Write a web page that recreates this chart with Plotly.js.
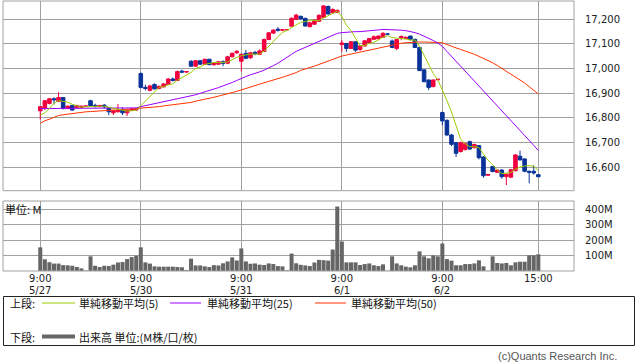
<!DOCTYPE html>
<html>
<head>
<meta charset="utf-8">
<script src="https://cdn.plot.ly/plotly-3.0.1.min.js"></script>
<style>html,body{margin:0;padding:0;background:#fff;}#chart{width:638px;height:362px;}</style>
</head>
<body>
<div id="chart"></div>
<script>
// ---- data (15-minute bars, 22 slots per day: 9:00..11:15, 11:30, 12:30..14:45, 15:00) ----
const days = ['5/27', '5/30', '5/31', '6/1', '6/2'];
const slotsPerDay = 22;
const timeLabels = ['9:00', '9:00', '9:00', '9:00', '9:00', '15:00'];
const dateLabels = ['5/27', '5/30', '5/31', '6/1', '6/2', ''];

const open = [
  16829,16839,16859,16878,16867,16883,16838,16851,16843,16843,16848,16870,16851,16846,16852,16843,16821,16825,16835,16821,16830,16832,
  16980,16924,16912,16936,16920,16926,16936,16958,16952,16990,16986,17030,17010,17032,17018,17038,17016,17018,17028,17022,17048,17064,
  17030,17062,17044,17066,17058,17070,17118,17144,17160,17156,17158,17172,17200,17212,17204,17170,17180,17192,17208,17252,17226,17228,
  17098,17102,17082,17109,17078,17092,17105,17119,17121,17127,17140,17112,17082,17125,17122,17132,17119,17086,16995,16954,16927,16955,
  16822,16790,16731,16700,16664,16672,16704,16680,16688,16642,16568,16603,16580,16589,16562,16560,16586,16645,16634,16584,16584,16570
];
const high = [
  16848,16873,16881,16884,16905,16885,16850,16853,16852,16849,16849,16874,16858,16852,16857,16845,16832,16857,16843,16834,16838,16836,
  16985,16935,16935,16940,16932,16942,16962,16964,16992,16996,16990,17034,17035,17036,17040,17040,17026,17030,17034,17052,17065,17075,
  17062,17075,17068,17072,17078,17122,17148,17160,17168,17160,17158,17208,17222,17215,17206,17190,17200,17220,17258,17256,17244,17240,
  17116,17104,17112,17110,17095,17115,17124,17135,17134,17148,17142,17118,17120,17135,17130,17134,17121,17088,16998,16956,16956,16958,
  16826,16795,16735,16702,16704,16700,16708,16696,16690,16645,16572,16606,16590,16592,16574,16594,16654,16668,16636,16586,16608,16572
];
const low = [
  16794,16832,16855,16855,16865,16834,16836,16830,16840,16841,16847,16848,16842,16844,16839,16812,16812,16823,16812,16808,16828,16830,
  16920,16912,16908,16915,16916,16924,16934,16948,16950,16982,16984,17008,17008,17016,17016,17014,17012,17016,17010,17018,17046,17060,
  16988,17038,17040,17054,17055,17068,17115,17140,17150,17152,17156,17170,17198,17198,17170,17168,17178,17190,17206,17218,17222,17226,
  17068,17068,17080,17068,17072,17090,17103,17117,17119,17125,17138,17084,17075,17115,17120,17114,17084,16990,16945,16913,16925,16953,
  16770,16728,16686,16642,16660,16668,16670,16676,16632,16558,16566,16580,16578,16554,16528,16556,16584,16628,16580,16535,16570,16560
];
const close = [
  16846,16870,16878,16874,16883,16839,16848,16832,16851,16848,16848,16850,16846,16851,16845,16825,16829,16832,16821,16832,16836,16835,
  16924,16920,16930,16918,16928,16938,16958,16952,16988,16986,16988,17010,17032,17018,17038,17016,17022,17028,17022,17048,17062,17070,
  17058,17042,17064,17060,17072,17118,17145,17156,17156,17158,17158,17204,17217,17202,17173,17186,17196,17216,17254,17222,17240,17236,
  17104,17082,17109,17075,17092,17113,17122,17129,17132,17143,17140,17086,17118,17130,17127,17119,17086,16992,16947,16924,16954,16957,
  16788,16731,16693,16657,16700,16696,16674,16692,16639,16566,16571,16583,16589,16562,16572,16590,16650,16630,16584,16580,16577,16562
];
// volume, millions
const volume = [
  153,76,57,48,48,38,37,34,26,17,3,95,34,26,34,32,41,55,58,77,90,99,
  153,56,48,30,28,28,28,28,26,24,6,80,36,36,30,26,38,36,50,62,88,68,
  146,62,47,49,41,39,49,45,32,30,5,113,50,40,36,32,55,72,70,67,139,417,
  191,56,56,56,39,45,49,37,32,43,2,95,49,37,28,24,37,127,95,82,101,95,
  178,77,67,37,37,45,45,49,69,30,2,95,52,49,52,37,56,60,60,101,101,108
];
// first four MA5 values (window reaches into the previous day)
const ma5Head = [16812, 16821, 16839, 16860];
const ma25 = [
  16838,16838,16838,16838,16838,16838,16838,16838,16838,16838,16838,16838,16840,16840,16840,16840,16840,16840,16840,16840,16841,16841,
  16846,16850,16853,16856,16862,16866,16868,16873,16877,16881,16884,16888,16894,16900,16905,16911,16917,16923,16930,16936,16944,16952,
  16961,16968,16975,16980,16987,16994,17002,17012,17022,17033,17045,17058,17070,17078,17087,17095,17103,17112,17120,17128,17137,17143,
  17146,17148,17149,17150,17150,17151,17152,17155,17157,17159,17159,17159,17158,17156,17154,17151,17146,17140,17132,17123,17114,17104,
  17090,17070,17050,17030,17010,16990,16970,16951,16932,16913,16893,16873,16852,16832,16812,16792,16772,16752,16731,16710,16689,16668
];
const ma50 = [
  16778,16789,16795,16803,16810,16813,16816,16818,16821,16823,16825,16826,16827,16828,16829,16830,16832,16833,16834,16835,16837,16838,
  16840,16841,16843,16845,16846,16849,16851,16853,16856,16858,16860,16863,16868,16873,16876,16880,16884,16888,16892,16898,16903,16908,
  16913,16919,16925,16931,16937,16942,16948,16954,16959,16965,16971,16977,16984,16993,16998,17004,17010,17017,17024,17030,17037,17044,
  17051,17055,17059,17063,17067,17071,17075,17080,17084,17089,17093,17097,17100,17103,17105,17107,17108,17108,17108,17107,17107,17106,
  17105,17098,17090,17084,17078,17072,17065,17058,17050,17042,17033,17024,17013,17001,16990,16979,16966,16954,16942,16927,16912,16897
];
const priceTicks = [16600, 16700, 16800, 16900, 17000, 17100, 17200];
const volTicks = [100, 200, 300, 400];

// ---- derived ----
const slots = close.map((_, i) => i);
const ma5 = close.map((c, i) => {
  if (i < 4) return ma5Head[i];
  let s = 0; for (let k = i - 4; k <= i; k++) s += close[k];
  return s / 5;
});
const tickVals = days.map((_, d) => d * slotsPerDay).concat([days.length * slotsPerDay - 1]);

// ---- geometry helpers (pixels -> paper) ----
const L = 3, R = 574, T = 1, B = 271;
const px = x => (x - L) / (R - L);
const py = y => (B - y) / (B - T);

const RED = '#f0003c', BLUE = '#0a3399';
const C5 = '#99cc00', C25 = '#9900ff', C50 = '#ff3300';
const GRID = '#a0a0a0';

const traces = [
  {type: 'bar', x: slots, y: volume, xaxis: 'x', yaxis: 'y2', marker: {color: '#666666', line: {width: 0}}, hoverinfo: 'skip'},
  {type: 'scatter', mode: 'lines', x: slots, y: ma50, xaxis: 'x', yaxis: 'y', line: {color: C50, width: 1}, hoverinfo: 'skip'},
  {type: 'scatter', mode: 'lines', x: slots, y: ma25, xaxis: 'x', yaxis: 'y', line: {color: C25, width: 1}, hoverinfo: 'skip'},
  {type: 'candlestick', x: slots, open: open, high: high, low: low, close: close, xaxis: 'x', yaxis: 'y',
   increasing: {line: {color: RED, width: 1}, fillcolor: RED},
   decreasing: {line: {color: BLUE, width: 1}, fillcolor: BLUE},
   whiskerwidth: 0, hoverinfo: 'skip'},
  {type: 'scatter', mode: 'lines', x: slots, y: ma5, xaxis: 'x', yaxis: 'y', line: {color: C5, width: 1}, hoverinfo: 'skip'}
];

const axFont = {family: 'DejaVu Sans, sans-serif', size: 10, color: '#222'};
const jpFont = {family: 'Noto Sans CJK JP, sans-serif', size: 11, color: '#111'};

const shapes = [
  {type: 'rect', xref: 'paper', yref: 'y domain', x0: 0, x1: 1, y0: 0, y1: 1, line: {color: GRID, width: 1}, fillcolor: 'rgba(0,0,0,0)'},
  {type: 'rect', xref: 'paper', yref: 'y2 domain', x0: 0, x1: 1, y0: 0, y1: 1, line: {color: GRID, width: 1}, fillcolor: 'rgba(0,0,0,0)'},
  // legend box
  {type: 'rect', xref: 'paper', yref: 'paper', x0: px(3.5), x1: px(634.5), y0: py(296.5), y1: py(345.5), line: {color: '#222', width: 1}, fillcolor: 'rgba(0,0,0,0)'},
  {type: 'line', xref: 'paper', yref: 'paper', x0: px(42), x1: px(75), y0: py(303), y1: py(303), line: {color: C5, width: 1}},
  {type: 'line', xref: 'paper', yref: 'paper', x0: px(170), x1: px(201), y0: py(303), y1: py(303), line: {color: C25, width: 1}},
  {type: 'line', xref: 'paper', yref: 'paper', x0: px(315), x1: px(346), y0: py(303), y1: py(303), line: {color: C50, width: 1}},
  {type: 'line', xref: 'paper', yref: 'paper', x0: px(42), x1: px(75), y0: py(336.5), y1: py(336.5), line: {color: '#666', width: 4}}
];

const ann = (x, y, text, font, xanchor) => ({xref: 'paper', yref: 'paper', x: px(x), y: py(y), text: text, showarrow: false, xanchor: xanchor || 'left', yanchor: 'middle', font: font, borderpad: 0});
const annotations = [
  ann(4, 209, '単位: M', jpFont),
  ann(9, 303, '上段:', jpFont),
  ann(78, 303, '単純移動平均(5)', jpFont),
  ann(206, 303, '単純移動平均(25)', jpFont),
  ann(350, 303, '単純移動平均(50)', jpFont),
  ann(9, 337, '下段:', jpFont),
  ann(78, 337, '出来高 単位:(M株/口/枚)', jpFont),
  ann(618, 356, '(c)Quants Research Inc.', {family: 'Liberation Sans, sans-serif', size: 11, color: '#555'}, 'right')
];
// date labels under the 9:00 ticks
dateLabels.forEach((d, i) => {
  if (!d) return;
  annotations.push({xref: 'x', yref: 'paper', x: tickVals[i], y: py(290), text: d, showarrow: false,
    xanchor: 'center', yanchor: 'middle', font: axFont, borderpad: 0});
});

const layout = {
  width: 638, height: 362,
  margin: {l: L, r: 638 - R, t: T, b: 362 - B},
  paper_bgcolor: '#fff', plot_bgcolor: '#fff',
  showlegend: false, hovermode: false,
  boxgap: 0.22, boxgroupgap: 0, bargap: 0.12,
  xaxis: {
    range: [-8.16, 116.81], anchor: 'y2', tickmode: 'array', tickvals: tickVals, ticktext: timeLabels,
    showgrid: true, gridcolor: GRID, gridwidth: 1, zeroline: false, showline: false, ticks: '',
    tickfont: axFont, rangeslider: {visible: false}, fixedrange: true
  },
  yaxis: {
    domain: [(B - 190.7) / (B - T), 1], range: [16505.2, 17274.2], side: 'right', anchor: 'x',
    tickmode: 'array', tickvals: priceTicks, ticktext: priceTicks.map(v => v.toLocaleString('en-US')),
    showgrid: true, gridcolor: GRID, gridwidth: 1, zeroline: false, showline: false, ticks: '',
    ticklabelstandoff: 10, tickfont: axFont, fixedrange: true
  },
  yaxis2: {
    domain: [0, (B - 201) / (B - T)], range: [0, 453], side: 'right', anchor: 'x',
    tickmode: 'array', tickvals: volTicks, ticktext: volTicks.map(v => v + 'M'),
    showgrid: true, gridcolor: GRID, gridwidth: 1, zeroline: false, showline: false, ticks: '',
    ticklabelstandoff: 10, tickfont: axFont, fixedrange: true
  },
  shapes: shapes,
  annotations: annotations
};

Plotly.newPlot('chart', traces, layout, {staticPlot: true, displayModeBar: false});
</script>
</body>
</html>
